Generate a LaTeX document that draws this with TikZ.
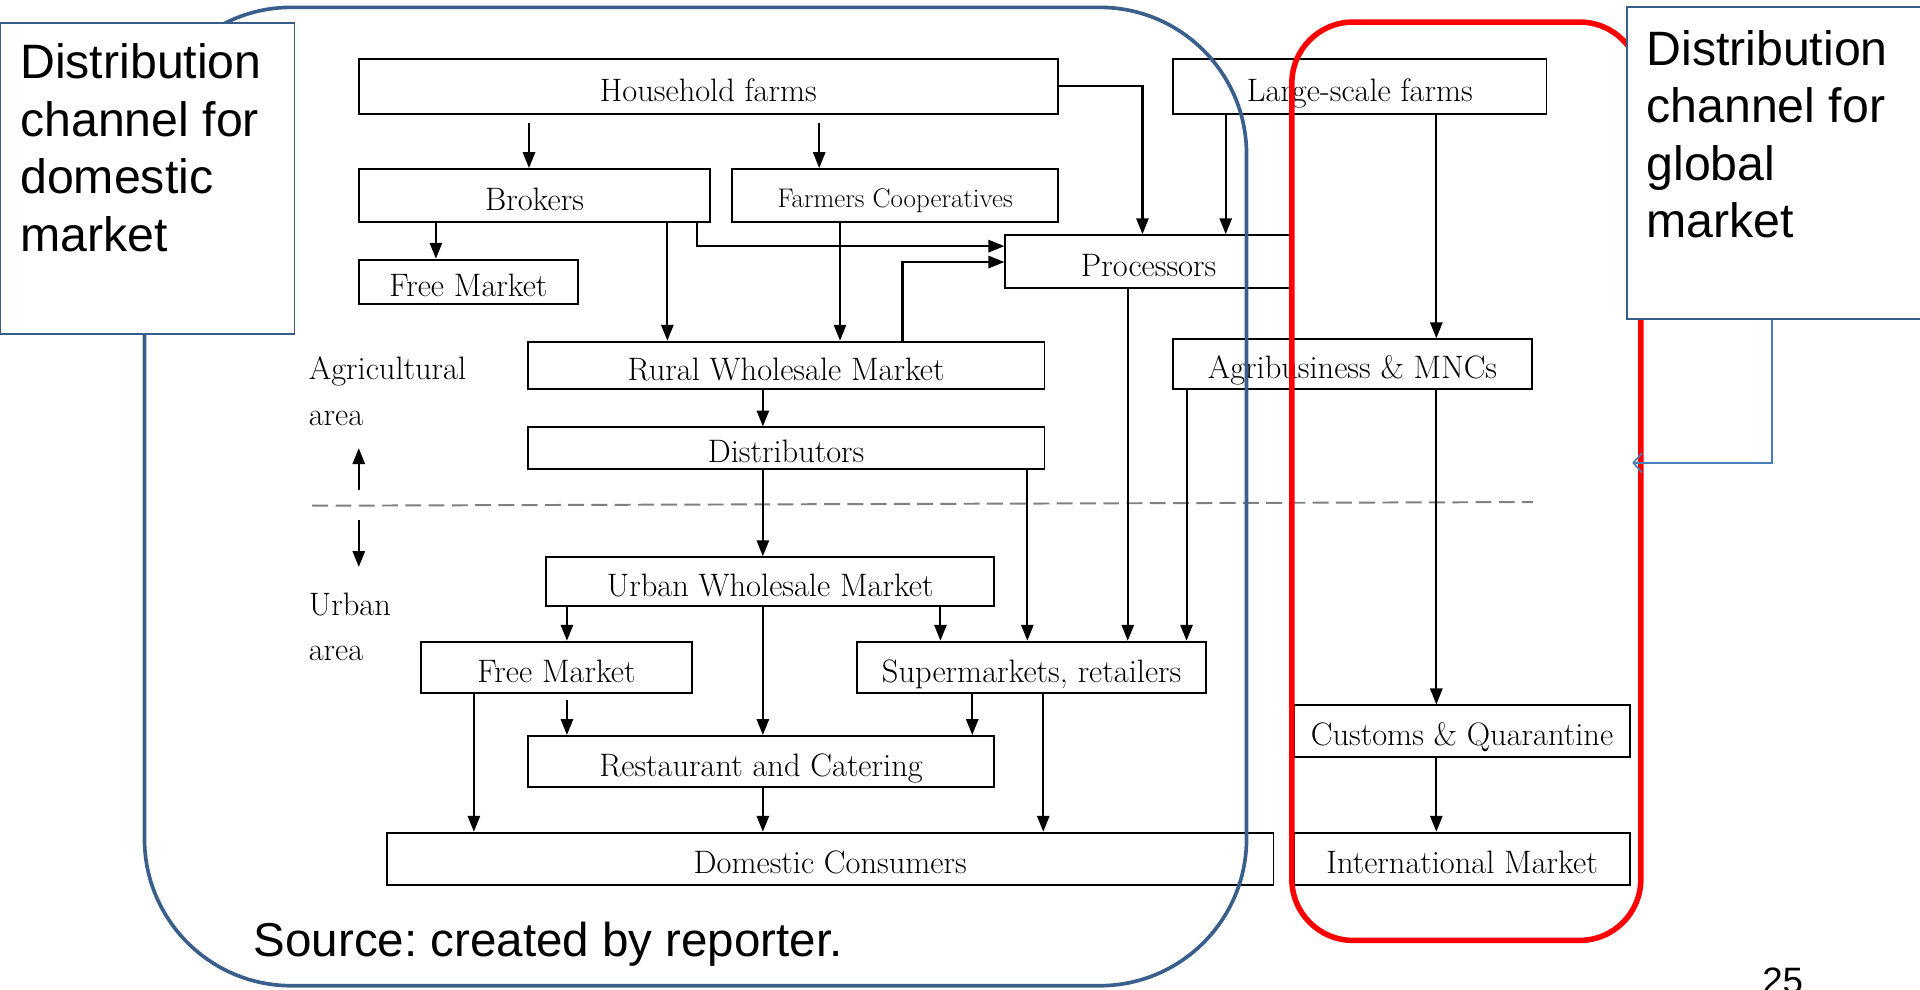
\documentclass[tikz,border=0pt]{standalone}
\usepackage{fontspec}
\newfontfamily\arialf{Liberation Sans}
\usetikzlibrary{arrows.meta,calc}
\definecolor{domblue}{RGB}{58,95,140}
\definecolor{labblue}{RGB}{56,93,138}
\definecolor{arrblue}{RGB}{74,126,187}
\definecolor{dashgray}{RGB}{128,128,128}
\newcommand\labtextfont{\arialf\fontsize{39.4}{47}\selectfont}
\frenchspacing
\begin{document}
\begin{tikzpicture}[x=1pt,y=-1pt,
  box/.style={draw, line width=1.5pt, inner sep=0pt, text height=27pt, text depth=3pt, font=\fontsize{26.5}{30}\selectfont},
  lab/.style={inner sep=0pt, anchor=west, font=\fontsize{26.5}{30}\selectfont},
  arr/.style={line width=1.7pt, -{Triangle[length=13pt,width=10pt]}},
  labbox/.style={draw=labblue, line width=1.2pt, fill=white, anchor=north west, inner xsep=16pt, inner ysep=8pt, align=left},
  labarr/.style={draw=arrblue, line width=1.4pt, -{Straight Barb[length=7pt,width=16pt]}}
]
\useasboundingbox (0,0) rectangle (1568,808);

% boxes
\node[box, minimum width=571pt, minimum height=45pt] (hh) at (578.5,70.5) {Household farms};
\node[box, minimum width=305pt, minimum height=45pt] (lsf) at (1110.5,70.5) {Large-scale farms};
\node[box, minimum width=287pt, minimum height=43pt] (brk) at (436.5,159.5) {Brokers};
\node[box, minimum width=266pt, minimum height=43pt, font=\fontsize{22}{26}\selectfont, text height=22pt, text depth=2.5pt] (fc) at (731,159.5) {Farmers Cooperatives};
\node[box, minimum width=234pt, minimum height=43pt] (proc) at (938,213.5) {Processors};
\node[box, minimum width=179pt, minimum height=36pt] (fm1) at (382.5,230) {Free Market};
\node[box, minimum width=422pt, minimum height=39pt] (rwm) at (642,298.5) {Rural Wholesale Market};
\node[box, minimum width=293pt, minimum height=41pt] (agri) at (1104.5,297.5) {Agribusiness \& MNCs};
\node[box, minimum width=422pt, minimum height=34pt] (dist) at (642,366) {Distributors};
\node[box, minimum width=366pt, minimum height=40pt] (uwm) at (629,475) {Urban Wholesale Market};
\node[box, minimum width=221pt, minimum height=42pt] (fm2) at (454.5,545) {Free Market};
\node[box, minimum width=285pt, minimum height=42pt] (sup) at (842.5,545) {Supermarkets, retailers};
\node[box, minimum width=274pt, minimum height=42pt] (cq) at (1194,597) {Customs \& Quarantine};
\node[box, minimum width=381pt, minimum height=42pt] (rc) at (621.5,622) {Restaurant and Catering};
\node[box, minimum width=724pt, minimum height=43pt] (dc) at (678,701.5) {Domestic Consumers};
\node[box, minimum width=274pt, minimum height=43pt] (im) at (1194,701.5) {International Market};

% area labels
\node[lab] (agl1) at (252,303) {Agricultural};
\node[lab] (agl2) at (252,342) {area};
\node[lab] (url1) at (252,494) {Urban};
\node[lab] (url2) at (252,534) {area};
\coordinate (upa) at (293,400);
\coordinate (upb) at (293,366);
\coordinate (dna) at (293,425);
\coordinate (dnb) at (293,463);
\draw[arr] (upa) -- (upb);
\draw[arr] (dna) -- (dnb);
\coordinate (dsa) at (255,413);
\coordinate (dsb) at (1252,410);
\draw[dashgray, line width=1.6pt, dash pattern=on 13pt off 6pt] (dsa) -- (dsb);

% connectors
\draw[arr] ($(hh.south -| 432,0)+(0,7)$) -- (brk.north -| 432,0);
\draw[arr] ($(hh.south -| 669,0)+(0,7)$) -- (fc.north -| 669,0);
\draw[arr] (hh.east) -| (proc.north -| 933,0);
\draw[arr] (lsf.south -| 1001,0) -- (proc.north -| 1001,0);
\draw[arr] (lsf.south -| 1173,0) -- (agri.north -| 1173,0);
\draw[arr] (brk.south -| 356,0) -- (fm1.north -| 356,0);
\draw[arr] (brk.south -| 545,0) -- (rwm.north -| 545,0);
\draw[arr] (brk.south -| 569,0) |- (proc.west |- 0,201);
\draw[arr] (fc.south -| 686,0) -- (rwm.north -| 686,0);
\draw[arr] (rwm.north -| 737,0) |- (proc.west |- 0,214);
\draw[arr] (rwm.south -| 623,0) -- (dist.north -| 623,0);
\draw[arr] (dist.south -| 623,0) -- (uwm.north -| 623,0);
\draw[arr] (dist.south -| 839,0) -- (sup.north -| 839,0);
\draw[arr] (proc.south -| 921,0) -- (sup.north -| 921,0);
\draw[arr] (agri.south -| 969,0) -- (sup.north -| 969,0);
\draw[arr] (agri.south -| 1173,0) -- (cq.north -| 1173,0);
\draw[arr] (uwm.south -| 463,0) -- (fm2.north -| 463,0);
\draw[arr] (uwm.south -| 623,0) -- (rc.north -| 623,0);
\draw[arr] (uwm.south -| 768,0) -- (sup.north -| 768,0);
\draw[arr] (fm2.south -| 387,0) -- (dc.north -| 387,0);
\draw[arr] ($(fm2.south -| 463,0)+(0,5)$) -- (rc.north -| 463,0);
\draw[arr] (sup.south -| 794,0) -- (rc.north -| 794,0);
\draw[arr] (sup.south -| 852,0) -- (dc.north -| 852,0);
\draw[arr] (rc.south -| 623,0) -- (dc.north -| 623,0);
\draw[arr] (cq.south -| 1173,0) -- (im.north -| 1173,0);

% channel outlines
\draw[domblue, line width=3pt, rounded corners=120pt] (118,6) rectangle (1018,805);
\draw[red, line width=4.5pt, rounded corners=50pt] (1055,18) rectangle (1340,768);

% label boxes
\node[labbox] (ldom) at (0,18) {\parbox[t][238pt][t]{208pt}{\raggedright\vspace*{9pt}\labtextfont Distribution\\channel for\\domestic\\market}};
\node[labbox] (lglob) at (1328,5) {\parbox[t][239pt][t]{208pt}{\raggedright\vspace*{11pt}\labtextfont Distribution\\channel for\\global\\market}};
\coordinate (gend) at (1333,378);
\draw[labarr] (lglob.south -| 1447,0) |- (gend);

\node[inner sep=0pt, anchor=west, font=\arialf\fontsize{38.8}{44}\selectfont] (src) at (207,771) {Source: created by reporter.};
\node[inner sep=0pt, anchor=base west, font=\arialf\fontsize{30}{34}\selectfont] (pg) at (1439,811) {25};
\end{tikzpicture}
\end{document}
